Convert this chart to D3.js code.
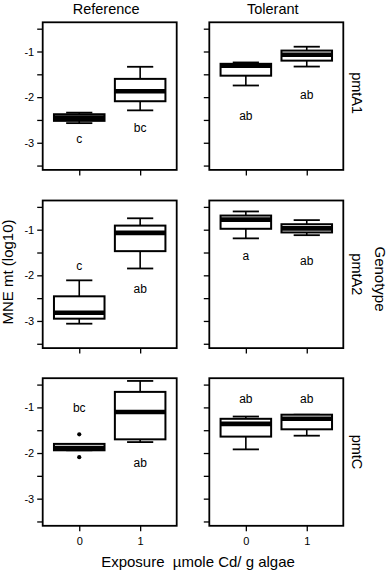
<!DOCTYPE html>
<html>
<head>
<meta charset="utf-8">
<script src="https://cdn.jsdelivr.net/npm/d3@7"></script>
<style>
  html, body { margin: 0; padding: 0; background: #fff; }
  svg { display: block; font-family: "Liberation Sans", Arial, sans-serif; }
</style>
</head>
<body>
<svg id="chart" width="387" height="571"></svg>
<script>
// ---------- data ----------
const genotypes = ["pmtA1", "pmtA2", "pmtC"];
const populations = ["Reference", "Tolerant"];
const exposures = ["0", "1"];
const yTickValues = [-3.5, -3, -2.5, -2, -1.5, -1, -0.5];

// box order: genotype -> population -> exposure
const boxGenotype   = ["pmtA1","pmtA1","pmtA1","pmtA1","pmtA2","pmtA2","pmtA2","pmtA2","pmtC","pmtC","pmtC","pmtC"];
const boxPopulation = ["Reference","Reference","Tolerant","Tolerant","Reference","Reference","Tolerant","Tolerant","Reference","Reference","Tolerant","Tolerant"];
const boxExposure   = ["0","1","0","1","0","1","0","1","0","1","0","1"];
const whiskerLow    = [-2.57, -2.29, -1.745, -1.33, -3.06, -1.85, -1.19, -1.12, -1.94, -1.76, -1.92, -1.62];
const q1            = [-2.52, -2.09, -1.53,  -1.20, -2.95, -1.47, -0.98, -1.06, -1.94, -1.70, -1.64, -1.48];
const median        = [-2.45, -1.87, -1.31,  -1.07, -2.82, -1.07, -0.78, -0.97, -1.89, -1.10, -1.36, -1.25];
const q3            = [-2.375,-1.60, -1.27,  -0.98, -2.46, -0.91, -0.69, -0.88, -1.80, -0.66, -1.25, -1.16];
const whiskerHigh   = [-2.34, -1.335,-1.24,  -0.895,-2.11, -0.75, -0.60, -0.79, -1.80, -0.42, -1.20, -1.16];
const outliers      = [[], [], [], [], [], [], [], [], [-1.59, -2.09], [], [], []];
const letters       = ["c", "bc", "ab", "ab", "c", "ab", "a", "ab", "bc", "ab", "ab", "ab"];
const letterY       = [-2.92, -2.67, -2.41, -1.95, -1.80, -2.29, -1.58, -1.69, -1.00, -2.22, -0.82, -0.82];

// ---------- layout ----------
const svg = d3.select("#chart");
const colLeft = [42.7, 209.3];
const panelW = 134;
const rowTop = [22.3, 200.5, 378.2];
const panelH = 147.6;

const x = d3.scalePoint().domain(exposures).range([0, panelW]).padding(0.6);
const y = d3.scaleLinear().domain([-3.595, -0.36]).range([panelH, 0]);
const step = x.step();
const boxW = step * 0.83;
const capW = step * 0.43;

const boxes = boxGenotype.map((g, i) => ({
  g, p: boxPopulation[i], e: boxExposure[i],
  lo: whiskerLow[i], q1: q1[i], med: median[i], q3: q3[i], hi: whiskerHigh[i],
  out: outliers[i], letter: letters[i], ly: letterY[i]
}));

genotypes.forEach((gen, r) => {
  populations.forEach((pop, c) => {
    const g = svg.append("g").attr("transform", `translate(${colLeft[c]},${rowTop[r]})`);

    // y axis
    const yAxis = d3.axisLeft(y).tickValues(yTickValues).tickSize(5.5).tickPadding(3)
      .tickFormat(d => (c === 0 && Number.isInteger(d)) ? String(d) : "");
    const ya = g.append("g").call(yAxis);
    ya.select(".domain").remove();
    ya.selectAll("line").attr("stroke", "#000").attr("stroke-width", 1.3);
    ya.selectAll("text").attr("font-size", 11).attr("fill", "#000")
      .attr("font-family", "Liberation Sans, Arial, sans-serif");

    // x axis
    const xAxis = d3.axisBottom(x).tickSize(5.5).tickPadding(6)
      .tickFormat(d => r === genotypes.length - 1 ? d : "");
    const xa = g.append("g").attr("transform", `translate(0,${panelH})`).call(xAxis);
    xa.select(".domain").remove();
    xa.selectAll("line").attr("stroke", "#000").attr("stroke-width", 1.3);
    xa.selectAll("text").attr("font-size", 11).attr("fill", "#000")
      .attr("font-family", "Liberation Sans, Arial, sans-serif");

    const data = boxes.filter(b => b.g === gen && b.p === pop);
    const bg = g.selectAll("g.box").data(data).join("g").attr("class", "box")
      .attr("transform", d => `translate(${x(d.e)},0)`);

    // whiskers
    bg.append("line").attr("x1", 0).attr("x2", 0)
      .attr("y1", d => y(d.q3)).attr("y2", d => y(d.hi))
      .attr("stroke", "#000").attr("stroke-width", 1.6);
    bg.append("line").attr("x1", 0).attr("x2", 0)
      .attr("y1", d => y(d.q1)).attr("y2", d => y(d.lo))
      .attr("stroke", "#000").attr("stroke-width", 1.6);
    bg.append("line").attr("x1", -capW / 2).attr("x2", capW / 2)
      .attr("y1", d => y(d.hi)).attr("y2", d => y(d.hi))
      .attr("stroke", "#000").attr("stroke-width", 1.8);
    bg.append("line").attr("x1", -capW / 2).attr("x2", capW / 2)
      .attr("y1", d => y(d.lo)).attr("y2", d => y(d.lo))
      .attr("stroke", "#000").attr("stroke-width", 1.8);

    // box
    bg.append("rect").attr("x", -boxW / 2).attr("width", boxW)
      .attr("y", d => y(d.q3)).attr("height", d => Math.max(0.5, y(d.q1) - y(d.q3)))
      .attr("fill", "#fff").attr("stroke", "#000").attr("stroke-width", 2);
    // median
    bg.append("line").attr("x1", -boxW / 2).attr("x2", boxW / 2)
      .attr("y1", d => y(d.med)).attr("y2", d => y(d.med))
      .attr("stroke", "#000").attr("stroke-width", 4.6);

    // outliers
    bg.selectAll("circle").data(d => d.out).join("circle")
      .attr("cx", 0).attr("cy", v => y(v)).attr("r", 2.1).attr("fill", "#000");

    // letters
    bg.append("text").attr("x", 0).attr("y", d => y(d.ly)).attr("dy", "0.35em")
      .attr("text-anchor", "middle").attr("font-size", 12).attr("fill", "#000")
      .text(d => d.letter);

    // frame
    g.append("rect").attr("x", 0).attr("y", 0).attr("width", panelW).attr("height", panelH)
      .attr("fill", "none").attr("stroke", "#000").attr("stroke-width", 1.8);

    // column titles
    if (r === 0) {
      svg.append("text").attr("x", colLeft[c] + panelW / 2 - 3.5).attr("y", 13.5)
        .attr("text-anchor", "middle").attr("font-size", 14.5).attr("fill", "#000").text(pop);
    }
  });
  // strip label on right
  const cy = rowTop[r] + panelH / 2 - (r === 0 ? 3 : 0);
  svg.append("text").attr("transform", `translate(352,${cy}) rotate(90)`)
    .attr("text-anchor", "middle").attr("font-size", 14.5).attr("fill", "#000").text(gen);
});

// axis titles
svg.append("text").attr("transform", `translate(13,272) rotate(-90)`)
  .attr("text-anchor", "middle").attr("font-size", 15).attr("fill", "#000").text("MNE mt (log10)");
svg.append("text").attr("transform", `translate(374.5,279) rotate(90)`)
  .attr("text-anchor", "middle").attr("font-size", 15).attr("fill", "#000").text("Genotype");
svg.append("text").attr("x", 198).attr("y", 566.5)
  .attr("text-anchor", "middle").attr("font-size", 15).attr("fill", "#000")
  .attr("xml:space", "preserve").style("white-space", "pre")
  .text("Exposure  µmole Cd/ g algae");
</script>
</body>
</html>
